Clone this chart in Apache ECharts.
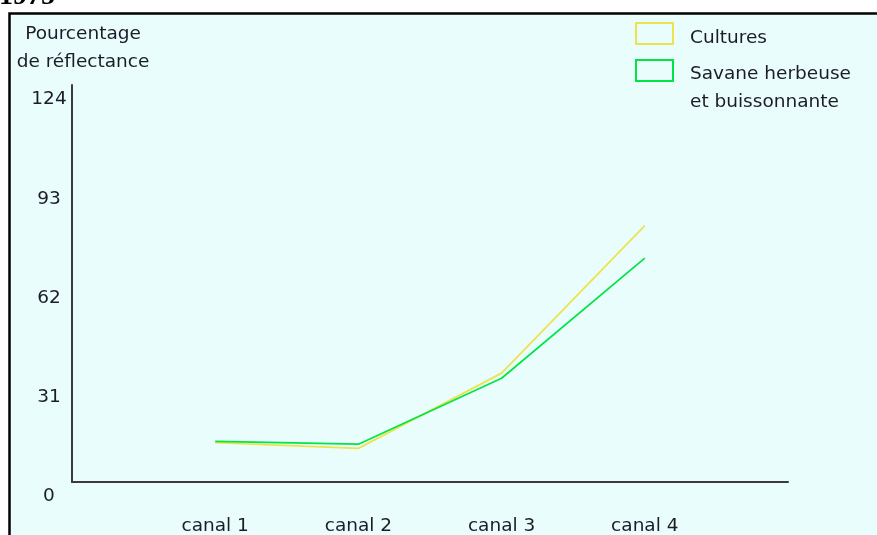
<!DOCTYPE html>
<html>
<head>
<meta charset="utf-8">
<script src="https://cdn.jsdelivr.net/npm/echarts@6/dist/echarts.min.js"></script>
<style>
html,body{margin:0;padding:0;background:#fff;}
#chart{width:877px;height:535px;}
</style>
</head>
<body>
<div id="chart"></div>
<script>
const categories = ['', 'canal 1', 'canal 2', 'canal 3', 'canal 4', ''];
const cultures = [null, 12.3, 10.5, 34.0, 80.1, null];
const savane = [null, 12.7, 11.8, 32.4, 69.9, null];
const yTicks = [0, 31, 62, 93, 124];
const seriesNames = ['Cultures', 'Savane herbeuse\net buissonnante'];
const yTitle = 'Pourcentage\nde réflectance';
const yearText = '1975';

const FONT = '"DejaVu Sans", sans-serif';
const FS = 18.5;
const TXT = '#1c1c28';
const YELLOW = '#ede34e';
const GREEN = '#00e545';

const chart = echarts.init(document.getElementById('chart'), null, {renderer: 'canvas'});
chart.setOption({
  animation: false,
  backgroundColor: '#ffffff',
  graphic: [
    {
      type: 'rect', z: -100, silent: true,
      shape: {x: 9.5, y: 13.5, width: 1000, height: 1000},
      style: {fill: '#e9fdfd', stroke: '#000', lineWidth: 2.5}
    },
    {
      type: 'text', z: -90, silent: true,
      style: {text: yearText, x: -1, y: -17, font: 'bold 28px "Liberation Serif", serif', fill: '#000', verticalAlign: 'top'}
    }
  ],
  grid: {left: 72, right: 89, top: 85, bottom: 53, containLabel: false, outerBoundsMode: 'none'},
  legend: [
    {
      left: 635, top: 17.5, padding: 0, orient: 'vertical', selectedMode: false,
      itemWidth: 37, itemHeight: 21, icon: 'rect',
      itemStyle: {color: 'transparent', borderColor: YELLOW, borderWidth: 2},
      formatter: function (name) { return '{s| }\n{t|' + name + '}'; },
      textStyle: {fontFamily: FONT, fontSize: FS, color: TXT, padding: [0, 0, 0, 12],
        rich: {
          s: {fontSize: 4, lineHeight: 9},
          t: {fontFamily: FONT, fontSize: FS, color: TXT, lineHeight: 28}
        }
      },
      data: [seriesNames[0]]
    },
    {
      left: 635, top: 40.5, padding: 0, orient: 'vertical', selectedMode: false,
      itemWidth: 37, itemHeight: 21, icon: 'rect',
      itemStyle: {color: 'transparent', borderColor: GREEN, borderWidth: 2},
      formatter: function (name) {
        const parts = name.split('\n');
        return '{s| }\n{t|' + parts[0] + '}\n{t|' + parts[1] + '}';
      },
      textStyle: {fontFamily: FONT, fontSize: FS, color: TXT, padding: [0, 0, 0, 12],
        rich: {
          s: {fontSize: 4, lineHeight: 36},
          t: {fontFamily: FONT, fontSize: FS, color: TXT, lineHeight: 28}
        }
      },
      data: [seriesNames[1]]
    }
  ],
  xAxis: {
    type: 'category', data: categories, boundaryGap: false,
    axisLine: {lineStyle: {color: '#3a3a3a', width: 2}},
    axisTick: {show: false},
    axisLabel: {fontFamily: FONT, fontSize: FS, color: TXT, margin: 35, interval: 0},
    splitLine: {show: false}
  },
  yAxis: {
    type: 'value', min: yTicks[0], max: yTicks[yTicks.length - 1], interval: yTicks[1] - yTicks[0],
    name: yTitle, nameLocation: 'end', nameGap: 9,
    nameTextStyle: {fontFamily: FONT, fontSize: FS, color: TXT, lineHeight: 28, align: 'center', padding: [0, 0, 0, 22]},
    axisLine: {show: true, lineStyle: {color: '#3a3a3a', width: 2}},
    axisTick: {show: false},
    splitLine: {show: false},
    axisLabel: {fontFamily: FONT, fontSize: FS, color: TXT, margin: 23, align: 'center', verticalAlign: 'top', padding: [5, 0, 0, 0]}
  },
  series: [
    {
      name: seriesNames[0], type: 'line', data: cultures, symbol: 'none', z: 3,
      lineStyle: {color: YELLOW, width: 1.8}, itemStyle: {color: YELLOW}
    },
    {
      name: seriesNames[1], type: 'line', data: savane, symbol: 'none', z: 4,
      lineStyle: {color: GREEN, width: 1.7}, itemStyle: {color: GREEN}
    }
  ]
});
</script>
</body>
</html>
